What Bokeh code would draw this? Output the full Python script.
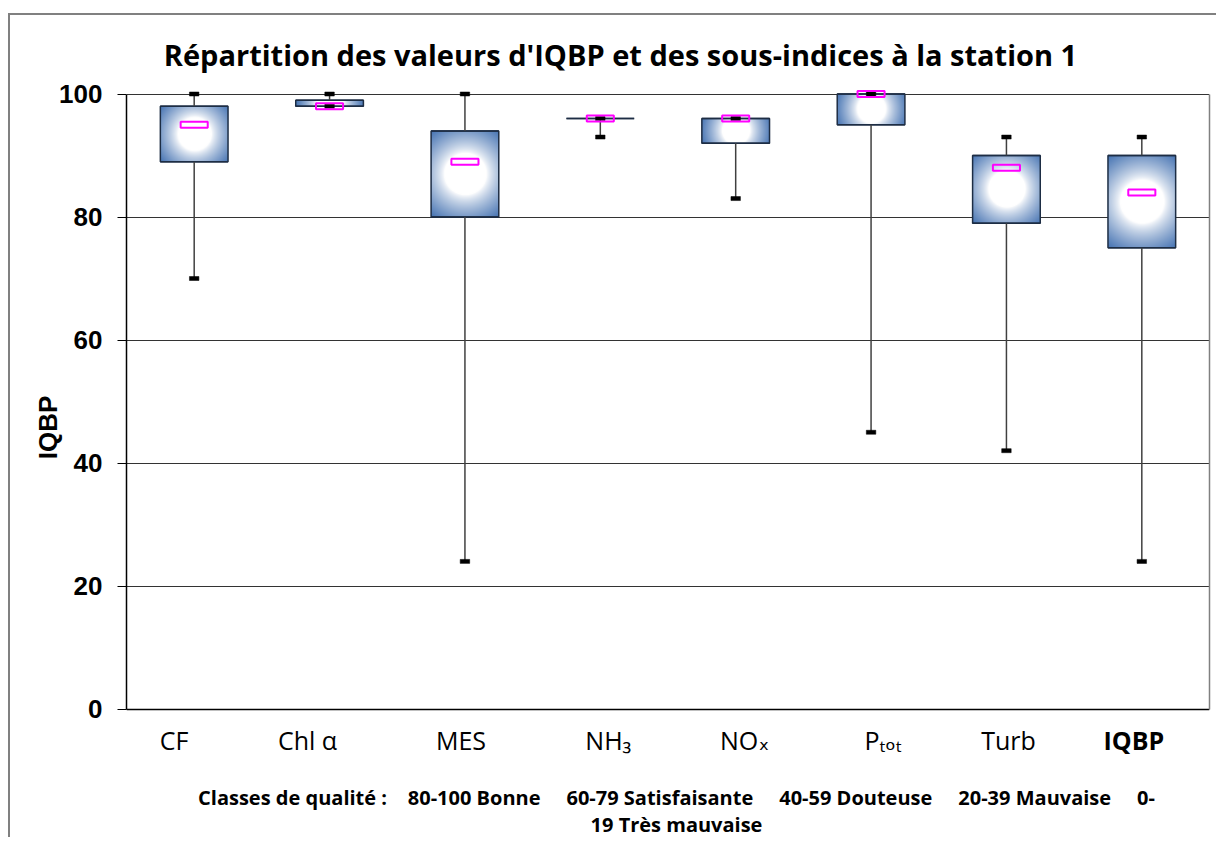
import numpy as np
from bokeh.plotting import figure
from bokeh.models import ColumnDataSource, Label, FixedTicker, Range1d, LinearAxis
from bokeh.embed import file_html
from bokeh.resources import INLINE

# ---------------- data ----------------
categories = ["CF", "Chl α", "MES", "NH₃", "NOₓ", "Pₜₒₜ", "Turb", "IQBP"]
whisker_max = [100, 100, 100, 96, 96, 100, 93, 93]
q3 = [98, 99, 94, 96, 96, 100, 90, 90]
q1 = [89, 98, 80, 96, 92, 95, 79, 75]
whisker_min = [70, 98, 24, 93, 83, 45, 42, 24]
mean_vals = [95, 98, 89, 96, 96, 100, 88, 84]
y_ticks = [0, 20, 40, 60, 80, 100]

title_text = "Répartition des valeurs d'IQBP et des sous-indices à la station 1"
y_title = "IQBP"
NB = "\u00a0"
classes_line1 = ("Classes de qualité :" + NB * 4 + "80-100 Bonne" + NB * 5 + "60-79 Satisfaisante"
                 + NB * 5 + "40-59 Douteuse" + NB * 5 + "20-39 Mauvaise" + NB * 5 + "0-")
classes_line2 = "19 Très mauvaise"

# ---------------- layout ----------------
CANVAS_W, CANVAS_H = 1208, 824
MB_LEFT, MB_RIGHT, MB_TOP, MB_BOTTOM = 116, 9, 0, 0
FRAME_W = CANVAS_W - MB_LEFT - MB_RIGHT
FRAME_H = CANVAS_H - MB_TOP - MB_BOTTOM
N = len(categories)
PX_X = FRAME_W / N
PX_Y = 6.15              # pixels per IQBP unit
TOP_GAP_PX = 78.5        # space above the value 100 (title area)
Y_TOP = 100 + TOP_GAP_PX / PX_Y
Y_BOTTOM = Y_TOP - FRAME_H / PX_Y
BOX_W = 0.5
# small horizontal shifts (pixels) of the category labels, as laid out in the original
LABEL_DX_PX = [-20, -22, -4, 8, 9, 12, 2, -8]

xs = [i + 0.5 for i in range(N)]

p = figure(width=CANVAS_W, height=CANVAS_H, output_backend="svg", toolbar_location=None,
           x_range=Range1d(0, N), y_range=Range1d(Y_BOTTOM, Y_TOP),
           min_border_left=MB_LEFT, min_border_right=MB_RIGHT,
           min_border_top=MB_TOP, min_border_bottom=MB_BOTTOM)
p.styles = {"border-left": "2px solid #808080", "border-top": "2px solid #808080",
            "margin-left": "8px", "margin-top": "13px"}
p.background_fill_color = "white"
p.border_fill_color = "white"
p.outline_line_color = None

# bottom axis at value 0
p.xaxis.fixed_location = 0
p.xaxis.ticker = FixedTicker(ticks=[])
p.xaxis.major_label_text_font_size = "0px"
p.xaxis.major_tick_line_color = None
p.xaxis.minor_tick_line_color = None
p.xaxis.axis_line_color = "black"
p.xaxis.axis_line_width = 1.5

# left value axis
p.yaxis.bounds = (0, 100)
p.yaxis.ticker = FixedTicker(ticks=y_ticks)
p.yaxis.axis_line_color = "black"
p.yaxis.axis_line_width = 1.5
p.yaxis.major_tick_out = 9
p.yaxis.major_tick_in = 0
p.yaxis.major_tick_line_color = "black"
p.yaxis.minor_tick_line_color = None
p.yaxis.major_label_text_font = "Liberation Sans"
p.yaxis.major_label_text_font_style = "bold"
p.yaxis.major_label_text_font_size = "26px"
p.yaxis.major_label_text_color = "black"
p.yaxis.major_label_standoff = 15
p.yaxis.axis_label = y_title
p.yaxis.axis_label_text_font = "Liberation Sans"
p.yaxis.axis_label_text_font_style = "bold"
p.yaxis.axis_label_text_font_size = "26px"
p.yaxis.axis_label_text_color = "black"
p.yaxis.axis_label_standoff = -7

# right border of the plot area
rax = LinearAxis(bounds=(0, 100), ticker=FixedTicker(ticks=[]),
                 major_label_text_font_size="0px", major_tick_line_color=None,
                 minor_tick_line_color=None, axis_line_color="#808080", axis_line_width=1.5)
p.add_layout(rax, "right")

p.xgrid.grid_line_color = None
p.ygrid.grid_line_color = "#333333"
p.ygrid.grid_line_width = 1

# ---------------- gradient fills ----------------
def gradient_image(h_units):
    w = int(round(BOX_W * PX_X))
    h = max(int(round(h_units * PX_Y)), 1)
    yy, xx = np.mgrid[0:h, 0:w]
    dx = xx + 0.5 - w / 2.0
    dy = yy + 0.5 - h / 2.0
    r = np.sqrt(dx ** 2 + dy ** 2) / np.sqrt((w / 2.0) ** 2 + (h / 2.0) ** 2)
    t = np.clip((r - 0.38) / 0.62, 0, 1) ** 0.8
    edge = np.array([68.0, 114.0, 178.0])
    rgb = 255.0 * (1 - t[..., None]) + edge * t[..., None]
    img = np.empty((h, w, 4), dtype=np.uint8)
    img[..., :3] = np.clip(rgb, 0, 255).astype(np.uint8)
    img[..., 3] = 255
    return img.view(dtype=np.uint32).reshape((h, w))

imgs, ix, iy, idw, idh = [], [], [], [], []
for i in range(N):
    if q3[i] > q1[i]:
        imgs.append(gradient_image(q3[i] - q1[i]))
        ix.append(xs[i] - BOX_W / 2)
        iy.append(q1[i])
        idw.append(BOX_W)
        idh.append(q3[i] - q1[i])
p.image_rgba(image=imgs, x=ix, y=iy, dw=idw, dh=idh)

src = ColumnDataSource(dict(
    x=xs,
    xl=[x - BOX_W / 2 for x in xs],
    xr=[x + BOX_W / 2 for x in xs],
    mid=[(a + b) / 2 for a, b in zip(q1, q3)],
    h=[b - a for a, b in zip(q1, q3)],
    q1=q1, q3=q3, lo=whisker_min, hi=whisker_max, mean=mean_vals,
))

BOX_LINE = "#1d2d44"
# box outlines
p.rect(x="x", y="mid", width=BOX_W, height="h", source=src, fill_color=None,
       line_color=BOX_LINE, line_width=1.5)
p.segment(x0="xl", y0="q3", x1="xr", y1="q3", source=src, line_color=BOX_LINE, line_width=1.5)
p.segment(x0="xl", y0="q1", x1="xr", y1="q1", source=src, line_color=BOX_LINE, line_width=1.5)
# whiskers
p.segment(x0="x", y0="q3", x1="x", y1="hi", source=src, line_color="#404040", line_width=1.5)
p.segment(x0="x", y0="q1", x1="x", y1="lo", source=src, line_color="#404040", line_width=1.5)
# caps
p.rect(x="x", y="hi", width=0.07, height=4, height_units="screen", source=src,
       fill_color="black", line_color="black", line_width=0.5)
p.rect(x="x", y="lo", width=0.07, height=4, height_units="screen", source=src,
       fill_color="black", line_color="black", line_width=0.5)
# mean markers
p.rect(x="x", y="mean", width=0.2, height=6, height_units="screen", source=src,
       fill_color=None, line_color="#ff00ff", line_width=2)

# ---------------- texts ----------------
PAGE_Y100 = 93.5     # where the value 100 sits on the page
PAGE_X0 = 126        # where the left axis sits on the page

def y_of(page_y):
    return 100 - (page_y - PAGE_Y100) / PX_Y

def x_of(page_x):
    return (page_x - PAGE_X0) / PX_X

FONT = "'Open Sans', 'DejaVu Sans', sans-serif"
p.add_layout(Label(x=x_of(620), y=y_of(54), text=title_text, text_align="center",
                   text_baseline="middle", text_font=FONT, text_font_style="bold",
                   text_font_size="29px", text_color="black"))

for i, c in enumerate(categories):
    p.add_layout(Label(x=xs[i] + LABEL_DX_PX[i] / PX_X, y=y_of(739), text=c, text_align="center",
                       text_baseline="middle", text_font=FONT,
                       text_font_style="bold" if c == "IQBP" else "normal",
                       text_font_size="25px", text_color="black"))

p.add_layout(Label(x=x_of(676), y=y_of(797), text=classes_line1, text_align="center",
                   text_baseline="middle", text_font=FONT, text_font_style="bold",
                   text_font_size="20px", text_color="black"))
p.add_layout(Label(x=x_of(676), y=y_of(824), text=classes_line2, text_align="center",
                   text_baseline="middle", text_font=FONT, text_font_style="bold",
                   text_font_size="20px", text_color="black"))

open("out.html", "w").write(file_html(p, INLINE))
